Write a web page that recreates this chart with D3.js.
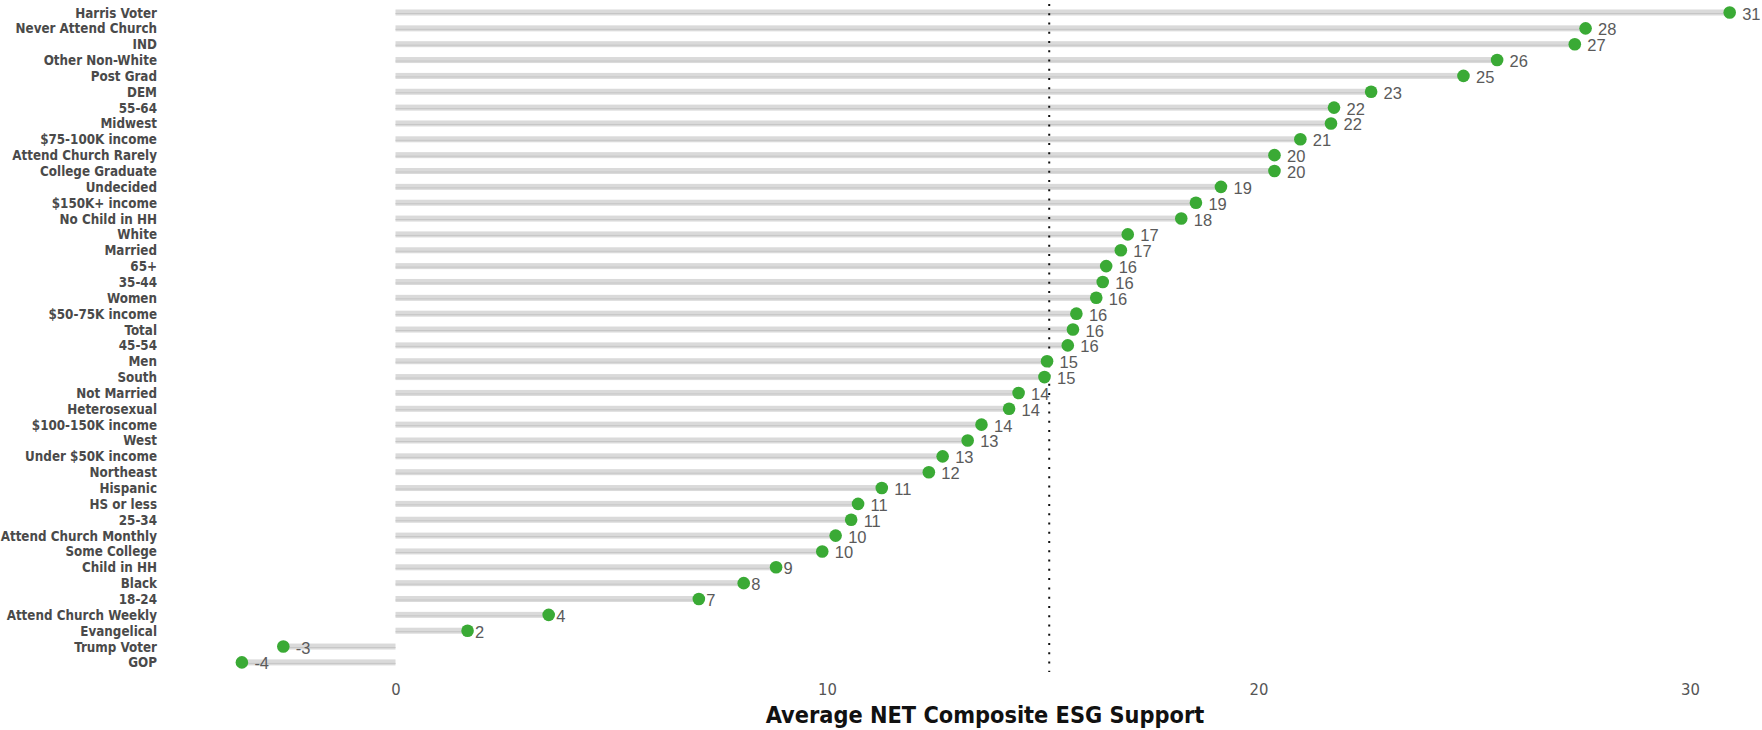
<!DOCTYPE html>
<html>
<head>
<meta charset="utf-8">
<script src="https://cdn.jsdelivr.net/npm/d3@7"></script>
<style>
  html, body { margin: 0; padding: 0; background: #fff; }
  svg { display: block; }
</style>
</head>
<body>
<svg id="chart" width="1762" height="730"></svg>
<script>
const categories = [
  "Harris Voter", "Never Attend Church", "IND", "Other Non-White", "Post Grad", "DEM",
  "55-64", "Midwest", "$75-100K income", "Attend Church Rarely", "College Graduate",
  "Undecided", "$150K+ income", "No Child in HH", "White", "Married", "65+", "35-44",
  "Women", "$50-75K income", "Total", "45-54", "Men", "South", "Not Married",
  "Heterosexual", "$100-150K income", "West", "Under $50K income", "Northeast",
  "Hispanic", "HS or less", "25-34", "Attend Church Monthly", "Some College",
  "Child in HH", "Black", "18-24", "Attend Church Weekly", "Evangelical",
  "Trump Voter", "GOP"
];
const values = [
  30.92, 27.58, 27.33, 25.53, 24.75, 22.61,
  21.75, 21.68, 20.97, 20.37, 20.37,
  19.13, 18.55, 18.21, 16.97, 16.81, 16.47, 16.39,
  16.24, 15.78, 15.70, 15.58, 15.10, 15.04, 14.44,
  14.22, 13.58, 13.26, 12.68, 12.36,
  11.27, 10.72, 10.56, 10.20, 9.89,
  8.82, 8.07, 7.03, 3.55, 1.67,
  -2.60, -3.56
];
const tickValues = [0, 10, 20, 30];
const tickLabels = ["0", "10", "20", "30"];
const refValue = [15.15];
const axisTitle = "Average NET Composite ESG Support";

const svg = d3.select("#chart");
const x = d3.scaleLinear().domain([0, 30]).range([395.5, 1690]);
const y = d3.scalePoint().domain(categories).range([12.5, 662.4]);

const data = categories.map((c, i) => ({ c, v: values[i] }));

// bars
const bars = svg.append("g");
bars.selectAll("rect.bar").data(data).join("rect")
  .attr("class", "bar")
  .attr("x", d => Math.min(x(0), x(d.v)))
  .attr("width", d => Math.abs(x(d.v) - x(0)))
  .attr("y", d => y(d.c) - 3)
  .attr("height", 6)
  .attr("fill", "#dadada");
bars.selectAll("line.barline").data(data).join("line")
  .attr("class", "barline")
  .attr("x1", d => x(0)).attr("x2", d => x(d.v))
  .attr("y1", d => y(d.c) + 1).attr("y2", d => y(d.c) + 1)
  .attr("stroke", "#c6c6c6").attr("stroke-width", 1);

// reference dotted line
svg.append("g").selectAll("line").data(refValue).join("line")
  .attr("x1", d => x(d)).attr("x2", d => x(d))
  .attr("y1", 4).attr("y2", 672)
  .attr("stroke", "#111").attr("stroke-width", 2)
  .attr("stroke-dasharray", "2 7.26");

// dots
svg.append("g").selectAll("circle").data(data).join("circle")
  .attr("cx", d => x(d.v)).attr("cy", d => y(d.c))
  .attr("r", 6.3).attr("fill", "#3aaa35");

// value labels
svg.append("g").selectAll("text").data(data).join("text")
  .attr("x", d => {
    const lbl = String(Math.round(d.v));
    return x(d.v) + (lbl.length === 1 ? 7.5 : 12.5);
  })
  .attr("y", d => y(d.c) + 1)
  .attr("dominant-baseline", "central")
  .attr("font-family", "'Liberation Sans', Arial, sans-serif")
  .attr("font-size", 16.5)
  .attr("fill", "#5a5a5a")
  .text(d => String(Math.round(d.v)));

// category labels
svg.append("g").selectAll("text").data(data).join("text")
  .attr("x", 157)
  .attr("y", d => y(d.c) + 0.5)
  .attr("text-anchor", "end")
  .attr("dominant-baseline", "central")
  .attr("font-family", "'DejaVu Sans Condensed', 'DejaVu Sans', sans-serif")
  .attr("font-stretch", "condensed")
  .attr("font-weight", "bold")
  .attr("font-size", 13.3)
  .attr("fill", "#4a4a4a")
  .text(d => d.c);

// x axis
const axis = d3.axisBottom(x).tickValues(tickValues)
  .tickFormat((d, i) => tickLabels[i]).tickSize(0).tickPadding(0);
const ax = svg.append("g").attr("transform", "translate(0,683)").call(axis);
ax.select(".domain").remove();
ax.selectAll("text")
  .attr("font-family", "'DejaVu Sans Condensed', 'DejaVu Sans', sans-serif")
  .attr("font-stretch", "condensed")
  .attr("font-size", 16.5)
  .attr("fill", "#555")
  .attr("dy", "0.71em");

// axis title
svg.append("text")
  .attr("x", 985).attr("y", 723)
  .attr("text-anchor", "middle")
  .attr("font-family", "'DejaVu Sans Condensed', 'DejaVu Sans', sans-serif")
  .attr("font-stretch", "condensed")
  .attr("font-weight", "bold")
  .attr("font-size", 23.3)
  .attr("fill", "#111")
  .text(axisTitle);
</script>
</body>
</html>
